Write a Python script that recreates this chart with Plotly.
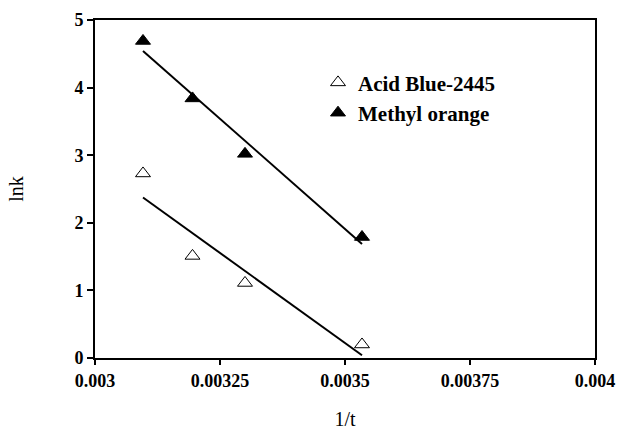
import numpy as np
import plotly.graph_objects as go

x_vals = [0.003096, 0.003195, 0.0033, 0.003534]
acid_blue = [2.73, 1.51, 1.11, 0.20]
methyl_orange = [4.69, 3.84, 3.02, 1.79]
x_ticks = [0.003, 0.00325, 0.0035, 0.00375, 0.004]
x_tick_text = ["0.003", "0.00325", "0.0035", "0.00375", "0.004"]
y_ticks = [0, 1, 2, 3, 4, 5]

FONT = "Liberation Serif, Times New Roman, serif"

fig = go.Figure()

for yv in (acid_blue, methyl_orange):
    m, b = np.polyfit(x_vals, yv, 1)
    xs = [x_vals[0], x_vals[-1]]
    fig.add_trace(go.Scatter(x=xs, y=[m * v + b for v in xs], mode="lines",
                             line=dict(color="black", width=2), showlegend=False,
                             hoverinfo="skip"))

fig.add_trace(go.Scatter(x=x_vals, y=acid_blue, mode="markers", name="Acid Blue-2445",
                         marker=dict(symbol="triangle-up", size=13, color="white",
                                     line=dict(color="black", width=1))))
fig.add_trace(go.Scatter(x=x_vals, y=methyl_orange, mode="markers", name="Methyl orange",
                         marker=dict(symbol="triangle-up", size=13, color="black",
                                     line=dict(color="black", width=1))))

fig.update_layout(
    width=619, height=430,
    margin=dict(l=95, r=24, t=20, b=72, autoexpand=False),
    paper_bgcolor="white", plot_bgcolor="white",
    font=dict(family=FONT, color="black"),
    legend=dict(x=0.446, y=0.875, xanchor="left", yanchor="top",
                font=dict(family=FONT, size=21, color="black", weight="bold"),
                bgcolor="rgba(0,0,0,0)", itemwidth=30, tracegroupgap=0),
    xaxis=dict(range=[0.003, 0.004], tickvals=x_ticks, ticktext=x_tick_text,
               showgrid=False, zeroline=False, showline=True, linecolor="black",
               linewidth=2, mirror=True, ticks="outside", ticklen=5, tickwidth=2,
               tickcolor="black", automargin=False,
               tickfont=dict(family=FONT, size=18, weight="bold"),
               title=dict(text="1/t", font=dict(family=FONT, size=20), standoff=24)),
    yaxis=dict(range=[0, 5], tickvals=y_ticks,
               showgrid=False, zeroline=False, showline=True, linecolor="black",
               linewidth=2, mirror=True, ticks="outside", ticklen=6, tickwidth=2,
               tickcolor="black", automargin=False,
               tickfont=dict(family=FONT, size=18, weight="bold"),
               title=dict(text="lnk", font=dict(family=FONT, size=20), standoff=45)),
)

fig.write_html("out.html")
